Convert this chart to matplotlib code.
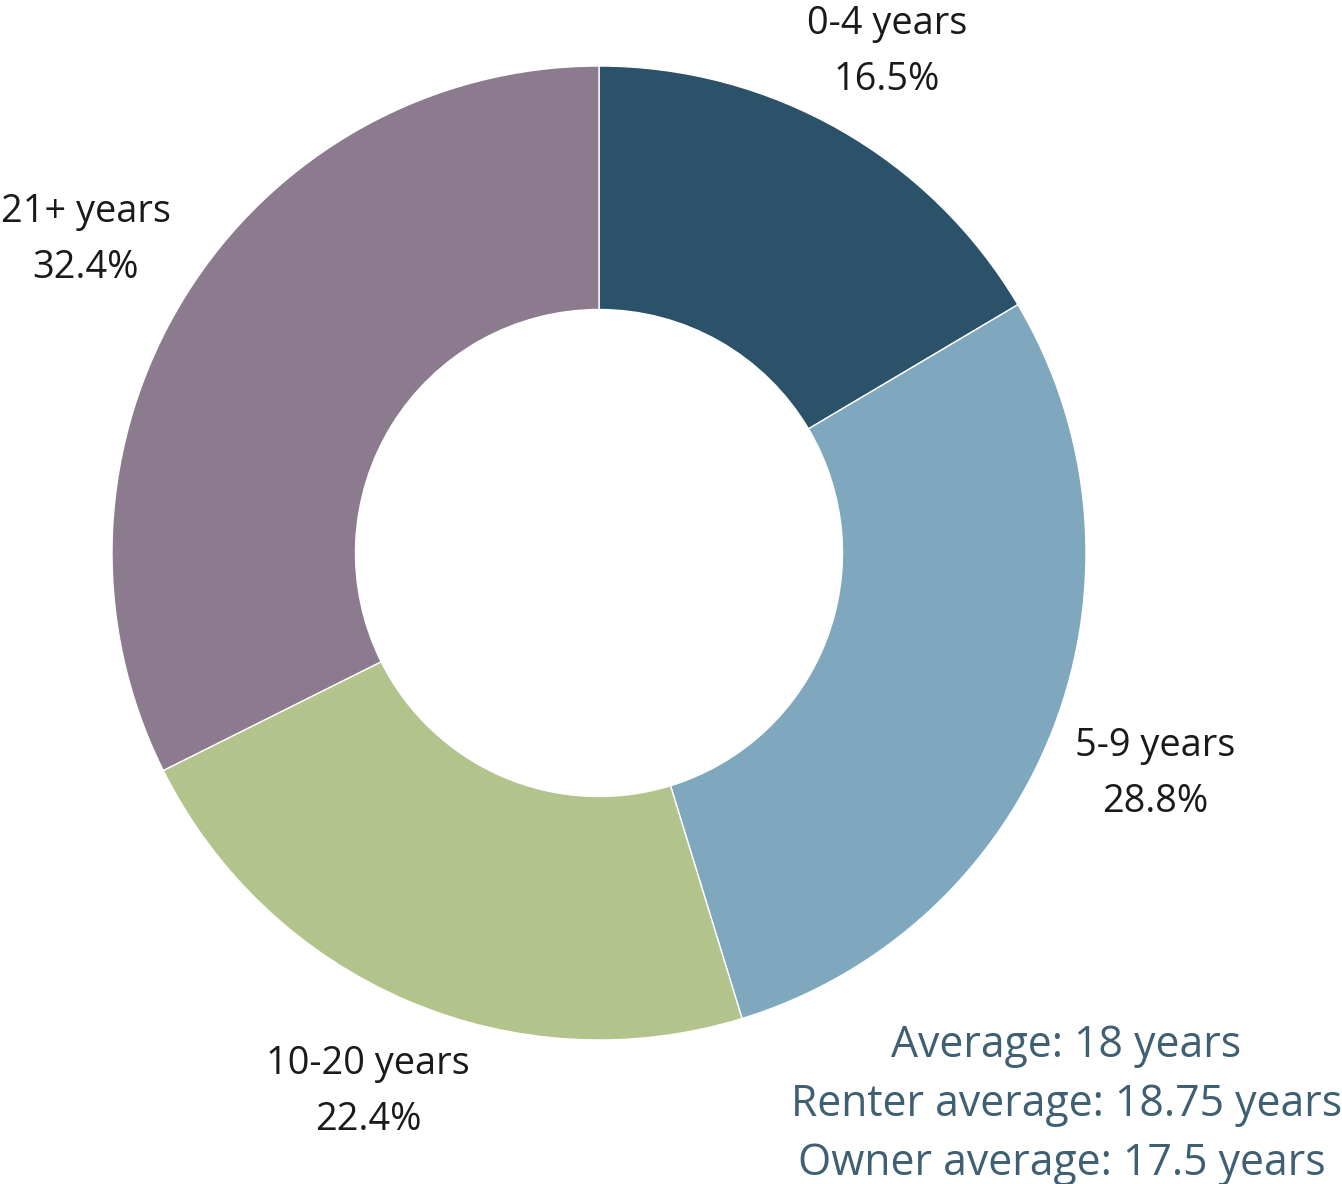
import matplotlib
matplotlib.use("Agg")
import matplotlib.pyplot as plt

categories = ["0-4 years", "5-9 years", "10-20 years", "21+ years"]
shares = [16.5, 28.8, 22.4, 32.4]
colors = ["#2b5268", "#7fa8be", "#b3c38c", "#8c7b8f"]
notes = ["Average: 18 years", "Renter average: 18.75 years", "Owner average: 17.5 years"]

W, H = 1342, 1184
fig = plt.figure(figsize=(W / 100, H / 100), dpi=100)
ax = fig.add_axes([0, 0, 1, 1])

cx, cy, R = 599, H - 553, 487
ax.pie(shares, colors=colors, startangle=90, counterclock=False,
       center=(cx, cy), radius=R, frame=True,
       wedgeprops=dict(width=R * 0.5, edgecolor="white", linewidth=1))
ax.set_xlim(0, W)
ax.set_ylim(0, H)
ax.set_aspect("equal")
ax.axis("off")

label_pos = [(887, 24), (1155, 746), (368, 1064), (86, 212)]
font = ["Open Sans", "DejaVu Sans"]
for cat, v, (x, y) in zip(categories, shares, label_pos):
    ax.text(x, H - y, cat, ha="center", va="center", fontsize=27.3,
            color="#1a1a1a", family=font)
    ax.text(x, H - y - 56, f"{v:.1f}%", ha="center", va="center",
            fontsize=27.3, color="#1a1a1a", family=font)

note_pos = [(1066, 1046), (1067, 1105), (1062, 1164)]
for t, (x, y) in zip(notes, note_pos):
    ax.text(x, H - y, t, ha="center", va="center", fontsize=30.8,
            color="#3f5f73", family=font)

fig.savefig("out.png", dpi=100, facecolor="white")
